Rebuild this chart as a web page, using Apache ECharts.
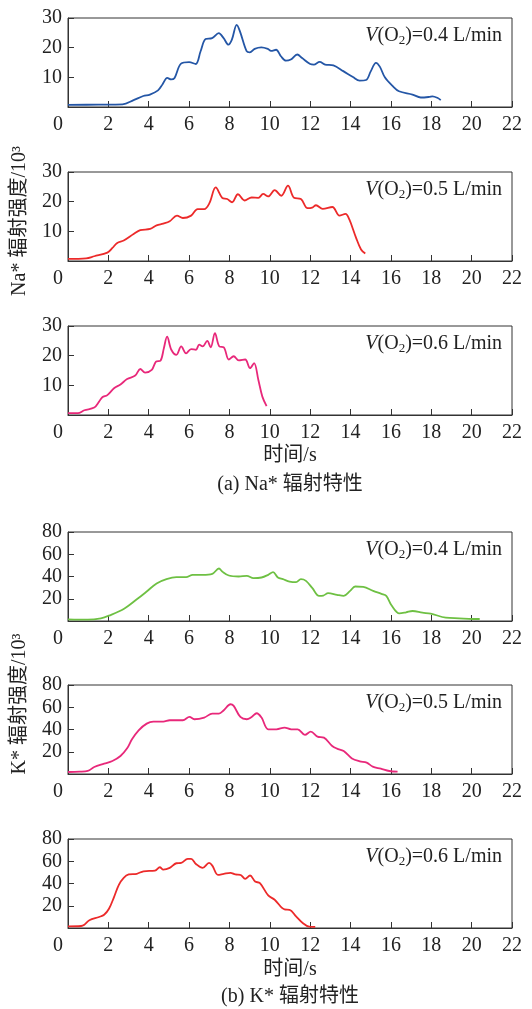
<!DOCTYPE html>
<html><head><meta charset="utf-8">
<script src="https://cdn.jsdelivr.net/npm/echarts@6/dist/echarts.min.js"></script>
<style>html,body{margin:0;padding:0;background:#fff}#c{width:532px;height:1009px}</style>
</head><body><div id="c"></div>
<script>
// ---- data: [time (s), intensity (10^3)] ----
const na04 = [[0,0.7],[1.5,0.8],[2.7,0.9],[3.25,2.3],[3.73,3.7],[4.06,4.2],[4.46,5.6],[4.68,7.6],[4.92,9.8],[5.11,9.3],[5.28,9.8],[5.6,14.6],[6.0,15.1],[6.33,14.5],[6.57,18.8],[6.82,22.9],[7.14,23.2],[7.47,24.9],[7.71,23.2],[7.95,21.0],[8.12,22.7],[8.36,27.7],[8.52,25.5],[8.85,18.8],[9.01,18.4],[9.25,19.6],[9.58,20.1],[9.9,19.6],[10.06,18.9],[10.31,19.3],[10.55,17.1],[10.8,15.6],[11.04,16.0],[11.36,17.7],[11.6,16.5],[12.0,14.5],[12.18,14.3],[12.47,15.2],[12.74,14.3],[13.15,14.0],[13.64,12.1],[14.12,10.1],[14.45,8.9],[14.77,9.1],[15.0,12.0],[15.26,14.9],[15.45,13.6],[15.7,10.0],[16.08,7.1],[16.4,5.3],[17.07,4.2],[17.48,3.2],[17.9,3.4],[18.06,3.6],[18.3,3.1],[18.47,2.3]];
const na05 = [[0,0.7],[0.9,0.9],[1.3,1.6],[1.95,2.8],[2.2,4.4],[2.44,6.1],[2.76,6.9],[3.25,9.1],[3.58,10.4],[4.07,10.8],[4.39,12.0],[4.72,12.6],[5.04,13.4],[5.4,15.3],[5.69,14.5],[6.1,15.3],[6.42,17.5],[6.75,17.5],[7.0,19.4],[7.32,24.8],[7.64,21.3],[7.89,20.9],[8.13,19.8],[8.42,22.5],[8.75,20.4],[9.1,21.4],[9.43,21.3],[9.67,22.6],[9.92,21.8],[10.24,23.9],[10.57,22.0],[10.9,25.4],[11.2,21.3],[11.54,20.9],[11.87,17.8],[12.1,18.0],[12.29,18.8],[12.62,17.6],[13.1,18.2],[13.45,15.3],[13.75,15.9],[13.94,14.0],[14.27,7.9],[14.52,3.9],[14.73,2.5]];
const na06 = [[0,0.6],[0.49,0.6],[0.81,1.6],[1.3,2.5],[1.54,4.5],[1.7,6.0],[1.95,6.7],[2.28,9.0],[2.6,10.3],[2.93,12.1],[3.33,13.3],[3.58,15.5],[3.82,14.3],[4.15,15.2],[4.36,18.0],[4.59,18.4],[4.75,22.5],[4.91,26.4],[5.12,22.0],[5.37,20.3],[5.61,23.1],[5.85,20.8],[6.1,22.2],[6.34,22.0],[6.5,23.7],[6.67,23.1],[6.9,25.0],[7.07,22.8],[7.28,27.6],[7.5,23.1],[7.72,22.8],[7.97,18.7],[8.21,19.8],[8.46,18.4],[8.78,18.7],[9.02,15.8],[9.22,17.5],[9.43,11.9],[9.63,6.2],[9.84,3.0]];
const k04 = [[0,1.5],[0.98,1.2],[1.63,2.4],[2.03,4.8],[2.76,10.8],[3.41,19.5],[3.9,26.5],[4.39,33.7],[4.88,37.6],[5.37,39.4],[5.85,39.4],[6.18,41.5],[6.67,41.5],[7.15,42.4],[7.48,47.2],[7.64,44.5],[7.97,40.9],[8.46,40.0],[8.86,40.6],[9.19,38.5],[9.59,39.1],[9.92,41.5],[10.16,43.9],[10.4,39.1],[10.65,37.6],[10.98,35.5],[11.3,34.9],[11.54,37.6],[11.79,36.1],[12.11,29.5],[12.44,22.6],[12.65,22.9],[12.89,25.0],[13.33,23.5],[13.66,22.6],[13.98,27.1],[14.23,31.0],[14.63,30.7],[15.12,27.1],[15.53,24.4],[15.77,22.6],[16.02,14.4],[16.42,6.9],[16.75,7.8],[17.07,9.0],[17.56,7.5],[17.97,6.6],[18.72,3.0],[19.38,2.4],[20.05,1.8],[20.4,1.8]];
const k05 = [[0,1.8],[0.57,2.1],[0.98,2.7],[1.3,6.3],[1.79,9.3],[2.2,11.7],[2.6,16.2],[2.93,23.1],[3.17,31.2],[3.5,39.3],[3.9,45.3],[4.23,47.1],[4.72,47.1],[5.04,48.3],[5.69,48.3],[6.02,51.3],[6.26,49.2],[6.75,50.7],[7.15,54.3],[7.48,54.3],[7.72,57.3],[8.05,62.7],[8.21,61.2],[8.54,51.3],[8.86,49.2],[9.1,51.3],[9.35,54.6],[9.59,50.7],[9.92,40.2],[10.33,40.2],[10.73,41.7],[11.06,40.2],[11.38,40.2],[11.74,35.1],[12.03,38.1],[12.36,33.6],[12.68,32.7],[13.09,25.2],[13.33,22.8],[13.66,20.7],[14.07,14.0],[14.46,11.4],[14.8,10.2],[15.1,6.6],[15.5,4.8],[15.92,2.7],[16.33,2.1]];
const k06 = [[0,1.5],[0.65,1.8],[0.81,3.0],[1.06,6.9],[1.54,9.9],[1.79,11.9],[2.03,17.3],[2.28,27.8],[2.52,38.8],[2.76,45.1],[3.01,48.1],[3.41,48.7],[3.74,51.0],[4.31,51.6],[4.55,54.6],[4.72,52.5],[5.04,54.0],[5.37,58.2],[5.61,58.5],[5.93,62.1],[6.1,62.1],[6.34,57.6],[6.67,54.0],[6.99,58.5],[7.15,56.1],[7.43,47.8],[7.72,48.7],[8.05,49.6],[8.29,48.1],[8.54,47.8],[8.78,44.2],[9.02,47.2],[9.27,41.8],[9.51,40.3],[9.92,29.3],[10.24,25.4],[10.73,16.7],[10.98,16.4],[11.3,10.5],[11.63,4.5],[11.95,1.2],[12.25,1.0]];
const panels = [
  {data: na04, color: '#2456a6', flow: '0.4', ymax: 30, yint: 10},
  {data: na05, color: '#ec2a2a', flow: '0.5', ymax: 30, yint: 10},
  {data: na06, color: '#e8287a', flow: '0.6', ymax: 30, yint: 10},
  {data: k04,  color: '#6ec043', flow: '0.4', ymax: 80, yint: 20},
  {data: k05,  color: '#e8287a', flow: '0.5', ymax: 80, yint: 20},
  {data: k06,  color: '#ec2a2a', flow: '0.6', ymax: 80, yint: 20}
];
const xTicks = {min: 0, max: 22, interval: 2};
const naYName = 'Na* 辐射强度/10³';
const kYName = 'K* 辐射强度/10³';
const xName = '时间/s';
const captionA = '(a) Na* 辐射特性';
const captionB = '(b) K* 辐射特性';

// ---- layout ----
const FONT = '"Liberation Serif", "Noto Sans CJK SC", serif';
const tops = [18, 172, 326, 532, 685, 839];
const L = 68, W = 444, H = 89;

const chart = echarts.init(document.getElementById('c'), null, {renderer: 'canvas'});
const grid = [], xAxis = [], yAxis = [], series = [], graphic = [];
panels.forEach((p, i) => {
  grid.push({left: L, top: tops[i], width: W, height: H, show: true, borderColor: '#333', borderWidth: 1});
  xAxis.push({type: 'value', gridIndex: i, min: xTicks.min, max: xTicks.max, interval: xTicks.interval,
    axisLine: {lineStyle: {color: '#333', width: 1}},
    axisTick: {inside: true, length: 6, lineStyle: {color: '#333'}},
    splitLine: {show: false},
    axisLabel: {fontFamily: FONT, fontSize: 20, color: '#222', margin: 8,
      formatter: v => v === 0 ? '{z|0}' : String(v),
      rich: {z: {fontFamily: FONT, fontSize: 20, color: '#222', padding: [0, 20, 0, 0]}}}
  });
  yAxis.push({type: 'value', gridIndex: i, min: 0, max: p.ymax, interval: p.yint,
    axisLine: {show: true, lineStyle: {color: '#333', width: 1}},
    axisTick: {show: true, inside: true, length: 6, lineStyle: {color: '#333'}},
    splitLine: {show: false},
    axisLabel: {fontFamily: FONT, fontSize: 20, color: '#222', margin: 6, showMinLabel: false}
  });
  series.push({type: 'line', xAxisIndex: i, yAxisIndex: i, data: p.data, smooth: 0.35,
    showSymbol: false, lineStyle: {color: p.color, width: 1.8}, itemStyle: {color: p.color}, silent: true, animation: false});
  graphic.push({type: 'text', right: 532 - 502, top: tops[i] + 8,
    style: {text: '{i|V}(O{s|2})=' + p.flow + ' L/min', fontFamily: FONT, fontSize: 20, fill: '#222',
      rich: {i: {fontStyle: 'italic', fontFamily: FONT, fontSize: 20, fill: '#222'},
             s: {fontFamily: FONT, fontSize: 13, fill: '#222', padding: [10, 0, 0, 0]}}}});
});
// y-axis names (rotated)
graphic.push({type: 'text', x: 20, y: 221, rotation: Math.PI / 2,
  style: {text: naYName, font: '20px ' + FONT, fill: '#222', align: 'center', verticalAlign: 'middle'}});
graphic.push({type: 'text', x: 20, y: 704, rotation: Math.PI / 2,
  style: {text: kYName, font: '20px ' + FONT, fill: '#222', align: 'center', verticalAlign: 'middle'}});
// x names and captions
graphic.push({type: 'text', x: 290, y: 456, style: {text: xName, font: '20px ' + FONT, fill: '#222', align: 'center', verticalAlign: 'middle'}});
graphic.push({type: 'text', x: 290, y: 485, style: {text: captionA, font: '20px ' + FONT, fill: '#222', align: 'center', verticalAlign: 'middle'}});
graphic.push({type: 'text', x: 290, y: 970, style: {text: xName, font: '20px ' + FONT, fill: '#222', align: 'center', verticalAlign: 'middle'}});
graphic.push({type: 'text', x: 290, y: 997, style: {text: captionB, font: '20px ' + FONT, fill: '#222', align: 'center', verticalAlign: 'middle'}});

chart.setOption({animation: false, backgroundColor: '#fff', grid, xAxis, yAxis, series, graphic});
</script></body></html>
